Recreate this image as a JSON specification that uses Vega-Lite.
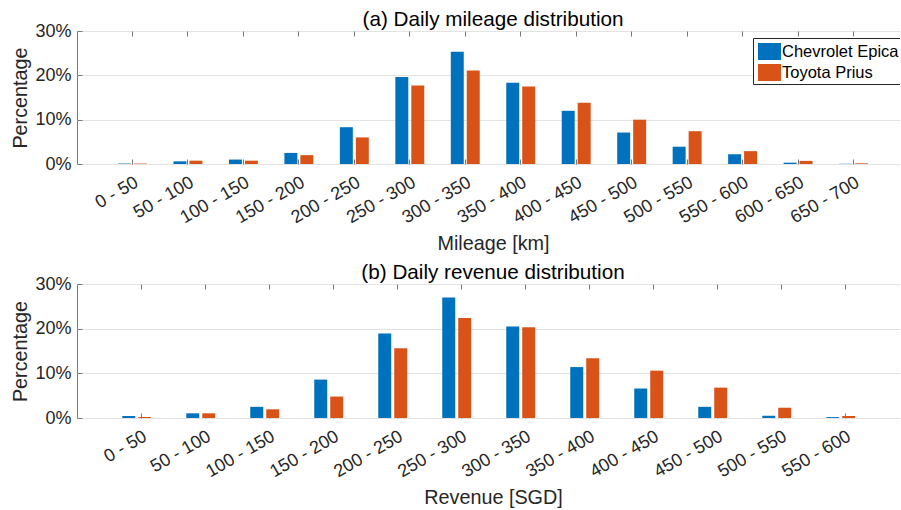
{
  "$schema": "https://vega.github.io/schema/vega-lite/v6.json",
  "background": "white",
  "padding": {"left": 10, "top": 8, "right": -10, "bottom": 0},
  "bounds": "flush",
  "spacing": 120,
  "config": {
    "font": "Liberation Sans",
    "view": {"stroke": "#7a7a7a", "strokeWidth": 1},
    "axis": {
      "domain": false,
      "gridColor": "#e3e3e3",
      "gridWidth": 1,
      "tickColor": "#7a7a7a",
      "tickSize": -5,
      "labelColor": "#262626",
      "labelFontSize": 18,
      "titleColor": "#262626",
      "titleFontSize": 19.8,
      "titleFontWeight": "normal"
    },
    "title": {"fontSize": 20.7, "fontWeight": "normal", "color": "#000000", "offset": -8.5, "frame": "group"}
  },
  "datasets": {
    "mileage": [
      {"range": "0 - 50", "car": "Chevrolet Epica", "pct": 0.1},
      {"range": "0 - 50", "car": "Toyota Prius", "pct": 0.1},
      {"range": "50 - 100", "car": "Chevrolet Epica", "pct": 0.6},
      {"range": "50 - 100", "car": "Toyota Prius", "pct": 0.75},
      {"range": "100 - 150", "car": "Chevrolet Epica", "pct": 1.0},
      {"range": "100 - 150", "car": "Toyota Prius", "pct": 0.75},
      {"range": "150 - 200", "car": "Chevrolet Epica", "pct": 2.5},
      {"range": "150 - 200", "car": "Toyota Prius", "pct": 2.0},
      {"range": "200 - 250", "car": "Chevrolet Epica", "pct": 8.3},
      {"range": "200 - 250", "car": "Toyota Prius", "pct": 6.0},
      {"range": "250 - 300", "car": "Chevrolet Epica", "pct": 19.6},
      {"range": "250 - 300", "car": "Toyota Prius", "pct": 17.7},
      {"range": "300 - 350", "car": "Chevrolet Epica", "pct": 25.3},
      {"range": "300 - 350", "car": "Toyota Prius", "pct": 21.1},
      {"range": "350 - 400", "car": "Chevrolet Epica", "pct": 18.3},
      {"range": "350 - 400", "car": "Toyota Prius", "pct": 17.5},
      {"range": "400 - 450", "car": "Chevrolet Epica", "pct": 12.0},
      {"range": "400 - 450", "car": "Toyota Prius", "pct": 13.8},
      {"range": "450 - 500", "car": "Chevrolet Epica", "pct": 7.1},
      {"range": "450 - 500", "car": "Toyota Prius", "pct": 10.0},
      {"range": "500 - 550", "car": "Chevrolet Epica", "pct": 3.9},
      {"range": "500 - 550", "car": "Toyota Prius", "pct": 7.4},
      {"range": "550 - 600", "car": "Chevrolet Epica", "pct": 2.2},
      {"range": "550 - 600", "car": "Toyota Prius", "pct": 2.9},
      {"range": "600 - 650", "car": "Chevrolet Epica", "pct": 0.3},
      {"range": "600 - 650", "car": "Toyota Prius", "pct": 0.7},
      {"range": "650 - 700", "car": "Chevrolet Epica", "pct": 0.05},
      {"range": "650 - 700", "car": "Toyota Prius", "pct": 0.15}
    ],
    "revenue": [
      {"range": "0 - 50", "car": "Chevrolet Epica", "pct": 0.45},
      {"range": "0 - 50", "car": "Toyota Prius", "pct": 0.2},
      {"range": "50 - 100", "car": "Chevrolet Epica", "pct": 1.05},
      {"range": "50 - 100", "car": "Toyota Prius", "pct": 1.05},
      {"range": "100 - 150", "car": "Chevrolet Epica", "pct": 2.5},
      {"range": "100 - 150", "car": "Toyota Prius", "pct": 1.95},
      {"range": "150 - 200", "car": "Chevrolet Epica", "pct": 8.6},
      {"range": "150 - 200", "car": "Toyota Prius", "pct": 4.8},
      {"range": "200 - 250", "car": "Chevrolet Epica", "pct": 18.9},
      {"range": "200 - 250", "car": "Toyota Prius", "pct": 15.6},
      {"range": "250 - 300", "car": "Chevrolet Epica", "pct": 27.0},
      {"range": "250 - 300", "car": "Toyota Prius", "pct": 22.4},
      {"range": "300 - 350", "car": "Chevrolet Epica", "pct": 20.5},
      {"range": "300 - 350", "car": "Toyota Prius", "pct": 20.3},
      {"range": "350 - 400", "car": "Chevrolet Epica", "pct": 11.4},
      {"range": "350 - 400", "car": "Toyota Prius", "pct": 13.4},
      {"range": "400 - 450", "car": "Chevrolet Epica", "pct": 6.6},
      {"range": "400 - 450", "car": "Toyota Prius", "pct": 10.6},
      {"range": "450 - 500", "car": "Chevrolet Epica", "pct": 2.5},
      {"range": "450 - 500", "car": "Toyota Prius", "pct": 6.8},
      {"range": "500 - 550", "car": "Chevrolet Epica", "pct": 0.5},
      {"range": "500 - 550", "car": "Toyota Prius", "pct": 2.3},
      {"range": "550 - 600", "car": "Chevrolet Epica", "pct": 0.2},
      {"range": "550 - 600", "car": "Toyota Prius", "pct": 0.45}
    ]
  },
  "resolve": {"scale": {"x": "independent", "color": "independent"}},
  "vconcat": [
    {
      "width": 832,
      "height": 133,
      "title": "(a) Daily mileage distribution",
      "data": {"name": "mileage"},
      "encoding": {
        "xOffset": {"field": "car", "type": "nominal", "sort": ["Chevrolet Epica", "Toyota Prius"], "scale": {"paddingInner": 0.1875, "paddingOuter": 0.83}},
        "y": {
          "field": "pct", "type": "quantitative",
          "scale": {"domain": [0, 30], "nice": false},
          "axis": {"title": "Percentage", "values": [0, 10, 20, 30], "labelExpr": "datum.value + '%'", "labelPadding": 11, "titlePadding": 4}
        },
        "color": {
          "field": "car", "type": "nominal",
          "scale": {"domain": ["Chevrolet Epica", "Toyota Prius"], "range": ["#0072BD", "#D95319"]},
          "legend": {
            "title": null, "orient": "none", "legendX": 676, "legendY": 7,
            "direction": "vertical",
            "symbolType": "M-0.74,-0.74L1.26,-0.74L1.26,0.74L-0.74,0.74Z",
            "symbolSize": 529, "symbolStrokeWidth": 0, "symbolOpacity": 1,
            "labelFontSize": 16.5, "labelColor": "#000000", "labelOffset": 4,
            "strokeColor": "#262626", "fillColor": "#ffffff", "padding": 2, "rowPadding": -1
          }
        }
      },
      "layer": [
        {
          "mark": {"type": "bar"},
          "encoding": {
            "x": {
              "field": "range", "type": "nominal", "sort": null,
              "scale": {"paddingInner": 0, "paddingOuter": 0.5},
              "axis": {"title": "Mileage [km]", "bandPosition": 0.5, "labelAngle": -30, "labelAlign": "right", "labelBaseline": "top", "labelPadding": 14, "titlePadding": 6.5}
            }
          }
        },
        {
          "mark": {"type": "bar", "opacity": 0},
          "encoding": {
            "x": {
              "field": "range", "type": "nominal", "sort": null,
              "scale": {"paddingInner": 0, "paddingOuter": 0.5},
              "axis": {"orient": "top", "title": null, "labels": false, "grid": false, "bandPosition": 0.5}
            }
          }
        }
      ],
      "resolve": {"axis": {"x": "independent"}}
    },
    {
      "width": 832,
      "height": 134,
      "title": "(b) Daily revenue distribution",
      "data": {"name": "revenue"},
      "encoding": {
        "xOffset": {"field": "car", "type": "nominal", "sort": ["Chevrolet Epica", "Toyota Prius"], "scale": {"paddingInner": 0.1875, "paddingOuter": 0.83}},
        "y": {
          "field": "pct", "type": "quantitative",
          "scale": {"domain": [0, 30], "nice": false},
          "axis": {"title": "Percentage", "values": [0, 10, 20, 30], "labelExpr": "datum.value + '%'", "labelPadding": 11, "titlePadding": 4}
        },
        "color": {
          "field": "car", "type": "nominal",
          "scale": {"domain": ["Chevrolet Epica", "Toyota Prius"], "range": ["#0072BD", "#D95319"]},
          "legend": null
        }
      },
      "layer": [
        {
          "mark": {"type": "bar"},
          "encoding": {
            "x": {
              "field": "range", "type": "nominal", "sort": null,
              "scale": {"paddingInner": 0, "paddingOuter": 0.5},
              "axis": {"title": "Revenue [SGD]", "bandPosition": 0.5, "labelAngle": -30, "labelAlign": "right", "labelBaseline": "top", "labelPadding": 14, "titlePadding": 6.5}
            }
          }
        },
        {
          "mark": {"type": "bar", "opacity": 0},
          "encoding": {
            "x": {
              "field": "range", "type": "nominal", "sort": null,
              "scale": {"paddingInner": 0, "paddingOuter": 0.5},
              "axis": {"orient": "top", "title": null, "labels": false, "grid": false, "bandPosition": 0.5}
            }
          }
        }
      ],
      "resolve": {"axis": {"x": "independent"}}
    }
  ]
}
